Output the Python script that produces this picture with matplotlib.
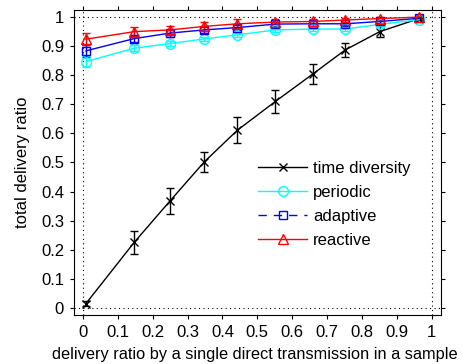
import matplotlib
matplotlib.use("Agg")
import matplotlib.pyplot as plt
from matplotlib.lines import Line2D

plt.rcParams['font.family'] = ['Liberation Sans', 'DejaVu Sans']

# data
x = [0.009, 0.147, 0.25, 0.348, 0.443, 0.552, 0.66, 0.752, 0.851, 0.964]
time_div = [0.015, 0.225, 0.368, 0.502, 0.611, 0.71, 0.805, 0.887, 0.95, 0.995]
time_div_err = [0.01, 0.04, 0.045, 0.035, 0.045, 0.04, 0.035, 0.025, 0.02, 0.005]
periodic = [0.847, 0.893, 0.909, 0.925, 0.939, 0.956, 0.959, 0.959, 0.975, 0.991]
periodic_err = [0.02, 0.01, 0.01, 0.008, 0.008, 0.006, 0.006, 0.006, 0.005, 0.003]
adaptive = [0.884, 0.926, 0.945, 0.956, 0.964, 0.976, 0.977, 0.977, 0.985, 0.996]
adaptive_err = [0.02, 0.012, 0.012, 0.01, 0.01, 0.008, 0.008, 0.007, 0.005, 0.003]
reactive = [0.924, 0.95, 0.956, 0.968, 0.977, 0.983, 0.985, 0.99, 0.995, 1.0]
reactive_err = [0.02, 0.015, 0.015, 0.015, 0.015, 0.01, 0.01, 0.008, 0.005, 0.003]
ticks = [0, 0.1, 0.2, 0.3, 0.4, 0.5, 0.6, 0.7, 0.8, 0.9, 1]
tick_labels = ['0', '0.1', '0.2', '0.3', '0.4', '0.5', '0.6', '0.7', '0.8', '0.9', '1']

fig = plt.figure(figsize=(4.64, 3.64), dpi=100)
ax = fig.add_axes([0.159, 0.135, 0.791, 0.838])

# dotted lines at the edge ticks
for v in [0, 1]:
    ax.axhline(v, color='black', linestyle=(0, (1, 3)), linewidth=0.8)
    ax.axvline(v, color='black', linestyle=(0, (1, 3)), linewidth=0.8)

ax.errorbar(x, time_div, yerr=time_div_err, color='black', marker='x', markersize=6,
            linewidth=1, elinewidth=1, capsize=3)
ax.errorbar(x, periodic, yerr=periodic_err, color='cyan', marker='o', markersize=7,
            markerfacecolor='none', linewidth=1, elinewidth=1, capsize=3)
ax.errorbar(x, adaptive, yerr=adaptive_err, color='blue', marker='s', markersize=6,
            markerfacecolor='none', linewidth=1, elinewidth=1, capsize=3)
ax.errorbar(x, reactive, yerr=reactive_err, color='red', marker='^', markersize=7,
            markerfacecolor='none', linewidth=1, elinewidth=1, capsize=3)

handles = [
    Line2D([], [], color='black', marker='x', markersize=6, linewidth=1),
    Line2D([], [], color='cyan', marker='o', markersize=7, markerfacecolor='none', linewidth=1),
    Line2D([], [], color='blue', marker='s', markersize=6, markerfacecolor='none', linewidth=1,
           linestyle=(0, (6, 5))),
    Line2D([], [], color='red', marker='^', markersize=7, markerfacecolor='none', linewidth=1),
]
ax.legend(handles, ['time diversity', 'periodic', 'adaptive', 'reactive'],
          loc='upper left', bbox_to_anchor=(0.462, 0.553), frameon=False, fontsize=12,
          handlelength=2.9, handletextpad=0.4, labelspacing=0.53)

ax.set_xlim(-0.026, 1.026)
ax.set_ylim(-0.024, 1.025)
ax.set_xticks(ticks)
ax.set_xticklabels(tick_labels)
ax.set_yticks(ticks)
ax.set_yticklabels(tick_labels)
ax.tick_params(direction='out', length=3, labelsize=12, top=True, right=True,
               labeltop=False, labelright=False, pad=4)
ax.set_xlabel('delivery ratio by a single direct transmission in a sample', fontsize=11.8)
ax.xaxis.set_label_coords(0.492, -0.107)
ax.xaxis.label.set_va('top')
ax.set_ylabel('total delivery ratio', fontsize=12, labelpad=8)

fig.savefig('out.png', dpi=100)
